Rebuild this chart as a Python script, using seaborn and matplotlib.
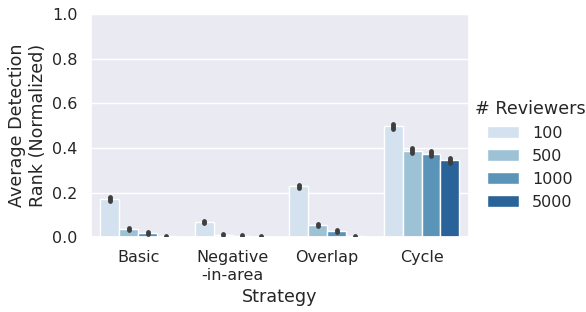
import pandas as pd
import matplotlib.pyplot as plt
import seaborn as sns

strategies = ['Basic', 'Negative\n-in-area', 'Overlap', 'Cycle']
reviewers = ['100', '500', '1000', '5000']

# mean normalized detection rank, one list per reviewer count (in strategy order)
rank_100 = [0.172, 0.068, 0.228, 0.497]
rank_500 = [0.037, 0.011, 0.055, 0.388]
rank_1000 = [0.019, 0.006, 0.028, 0.373]
rank_5000 = [0.004, 0.002, 0.003, 0.344]

# half-width of the confidence interval
err_100 = [0.008, 0.005, 0.006, 0.011]
err_500 = [0.004, 0.003, 0.004, 0.011]
err_1000 = [0.003, 0.002, 0.004, 0.011]
err_5000 = [0.002, 0.002, 0.002, 0.011]


def build_frame():
    rows = []
    means = [rank_100, rank_500, rank_1000, rank_5000]
    errs = [err_100, err_500, err_1000, err_5000]
    for r, m_list, e_list in zip(reviewers, means, errs):
        for s, m, e in zip(strategies, m_list, e_list):
            rows.append({'Strategy': s, '# Reviewers': r, 'rank': m, 'err': e})
    return pd.DataFrame(rows)


def plot_detection_rank(df, save_path='out.png'):
    sns.set_theme(style='darkgrid', font_scale=1.05)
    fig, ax = plt.subplots(figsize=(5.86, 3.12), dpi=100)
    sns.barplot(data=df, x='Strategy', y='rank', hue='# Reviewers',
                order=strategies, hue_order=reviewers, palette='Blues',
                errorbar=None, edgecolor='white', linewidth=1, ax=ax)

    # error bars at the bar centres that seaborn laid out
    for container, r in zip(ax.containers, reviewers):
        sub = df[df['# Reviewers'] == r].set_index('Strategy').loc[strategies]
        xs = [p.get_x() + p.get_width() / 2 for p in container.patches]
        eb = ax.errorbar(xs, sub['rank'], yerr=sub['err'], fmt='none',
                         ecolor='#3f3f3f', elinewidth=3.5, capsize=0, zorder=5)
        for lc in eb.lines[2]:
            lc.set_capstyle('round')

    ax.set_xlim(-0.5, len(strategies) - 0.5)
    ax.set_ylim(0, 1.0)
    ax.set_ylabel('Average Detection\nRank (Normalized)')
    ax.set_xlabel('Strategy')
    sns.move_legend(ax, 'center left', bbox_to_anchor=(0.99, 0.37),
                    frameon=False, title='# Reviewers', borderaxespad=0.2)
    fig.subplots_adjust(left=0.155, right=0.8, top=0.955, bottom=0.24)
    plt.savefig(save_path)
    plt.close()


if __name__ == "__main__":
    data = build_frame()
    plot_detection_rank(data)
